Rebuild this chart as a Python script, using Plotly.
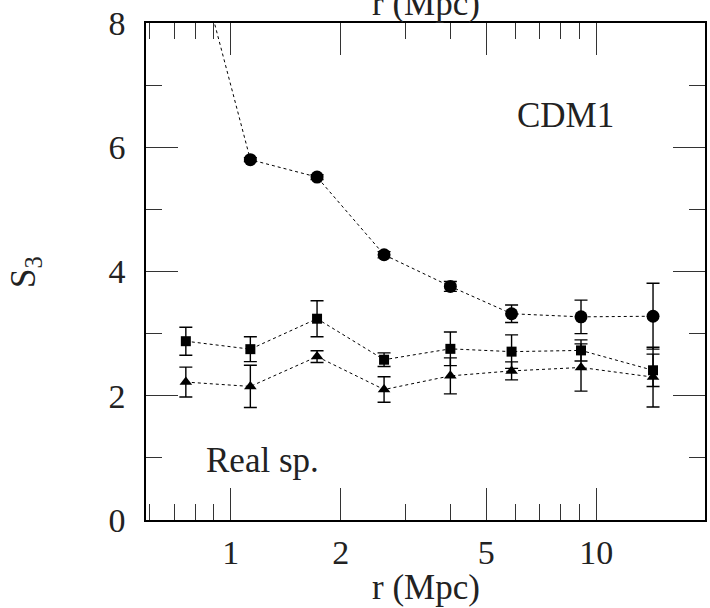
import plotly.graph_objects as go

# Data
r_mpc = [0.754, 1.132, 1.723, 2.628, 3.99, 5.867, 9.085, 14.30]
s3_circles = [9.75, 5.80, 5.52, 4.27, 3.76, 3.32, 3.27, 3.28]
s3_circles_err = [0.10, 0.03, 0.04, 0.05, 0.08, 0.14, 0.27, 0.53]
s3_squares = [2.878, 2.75, 3.24, 2.58, 2.755, 2.71, 2.73, 2.41]
s3_squares_err = [0.225, 0.20, 0.29, 0.11, 0.27, 0.27, 0.17, 0.26]
s3_triangles = [2.22, 2.15, 2.63, 2.10, 2.32, 2.40, 2.455, 2.30]
s3_triangles_err = [0.24, 0.34, 0.095, 0.205, 0.29, 0.145, 0.38, 0.48]

x_major = [1, 2, 5, 10]
x_minor = [0.6, 0.7, 0.8, 0.9, 3, 4, 6, 7, 8, 9]
y_major = [0, 2, 4, 6, 8]
y_minor = [1, 3, 5, 7]

FONT = "Liberation Serif"
TXT = "#222222"

fig = go.Figure()


def add_series(y, err, symbol, size):
    fig.add_trace(go.Scatter(
        x=r_mpc, y=y,
        mode="lines+markers",
        line=dict(color="black", width=1, dash="dot"),
        marker=dict(symbol=symbol, size=size, color="black"),
        error_y=dict(type="data", array=err, visible=True,
                     color="black", thickness=1.4, width=6.5),
        showlegend=False,
    ))


add_series(s3_circles, s3_circles_err, "circle", 13)
add_series(s3_squares, s3_squares_err, "square", 10)
add_series(s3_triangles, s3_triangles_err, "triangle-up", 11)

axis_common = dict(
    showline=True, linecolor="black", linewidth=1.5,
    mirror="allticks", ticks="inside", ticklen=32, tickwidth=1.2,
    tickcolor="#333333", showgrid=False, zeroline=False,
    tickfont=dict(family=FONT, size=34, color=TXT),
)

fig.update_xaxes(
    type="log", range=[-0.2316, 1.2975],
    tickmode="array", tickvals=x_major, ticktext=[str(v) for v in x_major],
    minor=dict(tickmode="array", tickvals=x_minor, ticks="inside",
               ticklen=16, tickwidth=1.2, tickcolor="#333333", showgrid=False),
    ticklabelstandoff=1,
    **axis_common,
)
fig.update_yaxes(
    range=[0, 8],
    tickmode="array", tickvals=y_major, ticktext=[str(v) for v in y_major],
    minor=dict(tickmode="array", tickvals=y_minor, ticks="inside",
               ticklen=16, tickwidth=1.2, tickcolor="#333333", showgrid=False),
    ticklabelstandoff=12,
    **axis_common,
)

ann_font = dict(family=FONT, size=35, color=TXT)
fig.add_annotation(text="r (Mpc)", xref="paper", yref="paper", x=0.5, y=-0.1367,
                   xanchor="center", yanchor="middle", showarrow=False, font=ann_font)
fig.add_annotation(text="r (Mpc)", xref="paper", yref="paper", x=0.5, y=1.0396,
                   xanchor="center", yanchor="middle", showarrow=False, font=ann_font)
fig.add_annotation(text="S<sub>3</sub>", xref="paper", yref="paper", x=-0.2157, y=0.50,
                   xanchor="center", yanchor="middle", textangle=-90,
                   showarrow=False, font=ann_font)
fig.add_annotation(text="CDM1", xref="paper", yref="paper", x=0.7505, y=0.8144,
                   xanchor="center", yanchor="middle", showarrow=False, font=ann_font)
fig.add_annotation(text="Real sp.", xref="paper", yref="paper", x=0.2086, y=0.1206,
                   xanchor="center", yanchor="middle", showarrow=False, font=ann_font)

fig.update_layout(
    width=710, height=608,
    margin=dict(l=146, r=3, t=23, b=88),
    paper_bgcolor="white", plot_bgcolor="white",
    font=dict(family=FONT, color=TXT),
)

fig.write_html(
    "out.html",
    config={"displayModeBar": False},
    post_script="document.body.style.margin='0';document.body.style.overflow='hidden';",
)
